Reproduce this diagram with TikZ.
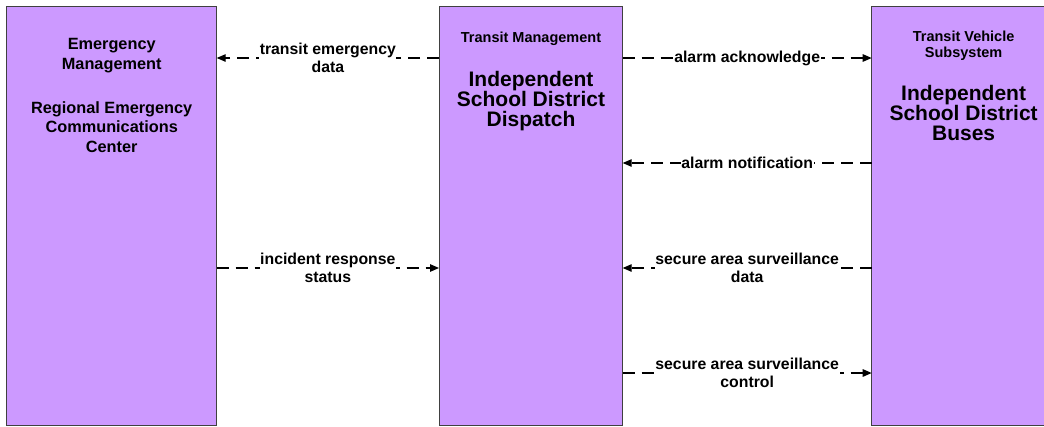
\documentclass[tikz,border=0pt]{standalone}
\usepackage{fontspec}
\setmainfont{Liberation Sans}
\usetikzlibrary{arrows.meta,calc}
\definecolor{boxfill}{HTML}{CC99FF}
\definecolor{boxline}{HTML}{404040}
\begin{document}
\begin{tikzpicture}[x=1pt,y=-1pt,
 box/.style={draw=boxline,line width=1pt,fill=boxfill,inner sep=0pt,outer sep=0pt,minimum height=419pt,anchor=north west},
 subname/.style={font=\bfseries\fontsize{14.5}{16}\selectfont,align=center,inner sep=0pt,anchor=north},
 elname/.style={font=\bfseries\fontsize{21}{20}\selectfont,align=center,inner sep=0pt,anchor=north},
 leftname/.style={font=\bfseries\fontsize{16.3}{19.5}\selectfont,align=center,inner sep=0pt,anchor=north},
 flow/.style={line width=1.2pt,dash pattern=on 12pt off 7pt,-{Triangle[length=9pt,width=7.5pt]}},
 lbl/.style={fill=white,inner sep=0.5pt,font=\bfseries\fontsize{15.8}{17.5}\selectfont,align=center}]
\useasboundingbox (0,0) rectangle (1044,426);
\clip (0,0) rectangle (1044,426);
% boxes
\node[box,minimum width=210pt] (em) at (6.7,6) {};
\node[box,minimum width=183.7pt] (tm) at (439,6) {};
\node[box,minimum width=183.7pt] (tv) at (871.7,6) {};
% box texts
\node[leftname] (emsub) at (111.7,38.3) {Emergency\\Management};
\node[leftname] (emname) at (111.7,101.1) {Regional Emergency\\Communications\\Center};
\node[subname] (tmsub) at (531,31.6) {Transit Management};
\node[elname] (tmname) at (531,70.7) {Independent\\School District\\Dispatch};
\node[subname] (tvsub) at (963.6,31.1) {Transit Vehicle\\Subsystem};
\node[elname] (tvname) at (963.6,84.7) {Independent\\School District\\Buses};
% flows
\draw[flow] ([yshift=-52pt]tm.north west) -- node[lbl] (l1) {transit emergency\\data} ([yshift=-52pt]em.north east);
\draw[flow] ([yshift=-52pt]tm.north east) -- node[lbl] (l2) {alarm acknowledge} ([yshift=-52pt]tv.north west);
\draw[flow] ([yshift=-157pt]tv.north west) -- node[lbl] (l3) {alarm notification} ([yshift=-157pt]tm.north east);
\draw[flow] ([yshift=-262pt]em.north east) -- node[lbl] (l4) {incident response\\status} ([yshift=-262pt]tm.north west);
\draw[flow] ([yshift=-262pt]tv.north west) -- node[lbl] (l5) {secure area surveillance\\data} ([yshift=-262pt]tm.north east);
\draw[flow] ([yshift=-367pt]tm.north east) -- node[lbl] (l6) {secure area surveillance\\control} ([yshift=-367pt]tv.north west);
\end{tikzpicture}
\end{document}
